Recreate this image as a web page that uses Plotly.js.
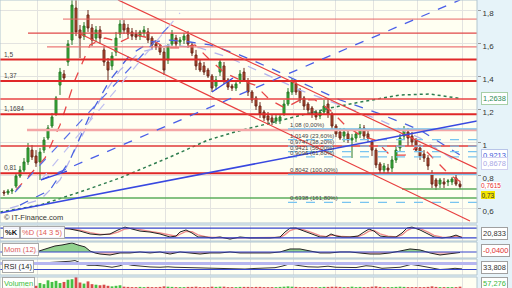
<!DOCTYPE html>
<html><head><meta charset="utf-8">
<script src="https://cdn.plot.ly/plotly-3.0.1.min.js"></script>
<style>html,body{margin:0;padding:0;background:#e6f3f9;}#chart{width:512px;height:288px;}</style>
</head><body><div id="chart"></div>
<script>
// ---------- DATA ----------
const openP = [0.697,0.691,0.703,0.733,0.794,0.830,0.879,0.951,0.915,0.879,
0.951,1.024,1.097,1.170,1.345,1.412,1.485,1.618,1.812,1.679,
1.642,1.770,1.691,1.630,1.679,1.558,1.485,1.461,1.545,1.655,
1.715,1.691,1.667,1.655,1.642,1.661,1.667,1.630,1.594,1.582,
1.545,1.497,1.594,1.630,1.606,1.618,1.649,1.588,1.527,1.479,
1.461,1.436,1.400,1.339,1.424,1.461,1.376,1.339,1.327,1.364,
1.424,1.364,1.303,1.267,1.218,1.182,1.158,1.146,1.127,1.133,
1.170,1.230,1.303,1.352,1.315,1.267,1.230,1.206,1.182,1.158,
1.182,1.230,1.170,1.097,1.061,1.036,1.049,1.012,1.024,1.049,
1.085,1.049,1.000,0.951,0.867,0.830,0.842,0.842,0.891,0.964,
1.036,1.061,1.036,1.012,0.964,0.927,0.903,0.806,0.770,0.745,
0.758,0.758,0.758,0.782,0.745];
const closeP = [0.691,0.703,0.709,0.794,0.830,0.879,0.964,0.909,0.873,0.939,
1.012,1.085,1.152,1.267,1.424,1.388,1.594,1.830,1.667,1.630,
1.703,1.691,1.618,1.679,1.630,1.485,1.436,1.521,1.630,1.715,
1.679,1.655,1.642,1.636,1.667,1.679,1.618,1.588,1.576,1.545,
1.436,1.582,1.655,1.594,1.618,1.642,1.594,1.539,1.461,1.436,
1.424,1.400,1.327,1.376,1.485,1.376,1.333,1.327,1.352,1.412,
1.376,1.303,1.255,1.218,1.170,1.146,1.133,1.121,1.146,1.152,
1.230,1.303,1.364,1.303,1.255,1.218,1.194,1.170,1.152,1.182,
1.218,1.170,1.097,1.049,1.024,1.061,1.012,1.024,1.049,1.085,
1.036,1.024,0.951,0.861,0.830,0.855,0.830,0.891,0.951,1.024,
1.073,1.024,1.000,0.951,0.915,0.903,0.855,0.745,0.733,0.770,
0.745,0.764,0.776,0.745,0.730];
const highP = [0.709,0.715,0.721,0.806,0.855,0.903,0.994,0.982,0.951,0.964,
1.030,1.103,1.176,1.279,1.449,1.436,1.618,1.861,1.861,1.709,
1.727,1.800,1.715,1.703,1.703,1.582,1.509,1.545,1.667,1.739,
1.739,1.715,1.691,1.679,1.679,1.703,1.691,1.642,1.618,1.594,
1.570,1.594,1.679,1.649,1.636,1.661,1.673,1.606,1.558,1.497,
1.485,1.449,1.412,1.400,1.497,1.485,1.388,1.352,1.376,1.436,
1.449,1.388,1.315,1.279,1.242,1.194,1.182,1.164,1.164,1.170,
1.255,1.327,1.388,1.376,1.327,1.279,1.242,1.218,1.194,1.194,
1.255,1.267,1.182,1.109,1.085,1.085,1.073,1.049,1.061,1.109,
1.103,1.073,1.012,0.964,0.879,0.873,0.867,0.915,0.976,1.049,
1.097,1.085,1.061,1.024,0.982,0.951,0.921,0.830,0.782,0.782,
0.782,0.776,0.788,0.806,0.764];
const lowP = [0.673,0.679,0.685,0.721,0.782,0.818,0.861,0.891,0.849,0.770,
0.933,1.012,1.085,1.158,1.285,1.364,1.461,1.588,1.642,1.509,
1.618,1.667,1.582,1.606,1.594,1.461,1.376,1.436,1.521,1.630,
1.655,1.630,1.618,1.618,1.618,1.636,1.600,1.564,1.558,1.527,
1.406,1.473,1.582,1.576,1.582,1.594,1.570,1.521,1.436,1.424,
1.406,1.388,1.303,1.315,1.400,1.352,1.315,1.309,1.309,1.352,
1.364,1.279,1.236,1.194,1.146,1.127,1.115,1.103,1.109,1.109,
1.158,1.218,1.285,1.285,1.236,1.194,1.170,1.146,1.133,1.139,
1.164,1.146,1.073,1.030,1.012,1.000,0.994,0.903,1.000,1.024,
1.012,1.000,0.915,0.842,0.812,0.812,0.806,0.818,0.873,0.945,
1.012,0.976,0.976,0.939,0.891,0.879,0.830,0.721,0.709,0.721,
0.721,0.733,0.739,0.733,0.715];
const volume = [5,5,8,25,20,18,30,15,20,45, 35,70,55,65,45,55,75,80,100,50,
40,60,35,30,25,30,20,15,20,25, 12,10,8,8,10,8,10,8,8,10,
15,12,10,8,8,8,10,10,12,8, 8,8,12,10,12,12,8,8,8,10,
10,10,8,10,10,8,8,8,8,10, 12,15,12,10,8,8,8,8,8,8,
10,10,12,12,10,8,8,12,8,10, 8,8,12,15,10,8,8,8,10,12,
10,8,8,8,8,8,10,15,10,8, 8,8,8,8,12];

// moving averages (bar index, price)
const maFastX = [3,6.5,10.25,14,17.75,21.5,25.25,29,32.75,36.5,40.25,44,47.75,51.5,55.25,59,62.75,66.5,70.25,74,77.75,81.5,85.25,89,92.75,96.5,100.25,104,107.75,111.5,114];
const maFastY = [0.709,0.800,0.903,1.103,1.376,1.588,1.630,1.606,1.649,1.630,1.570,1.570,1.588,1.497,1.418,1.376,1.345,1.255,1.206,1.255,1.255,1.194,1.103,1.042,1.012,0.921,0.921,0.982,0.891,0.800,0.7615];
const maMidX = [1.5,9,14,19,24,29,34,41.5,49,56.5,64,74,84,94,104,114];
const maMidY = [0.600,0.649,0.770,1.012,1.255,1.436,1.545,1.588,1.570,1.509,1.424,1.315,1.224,1.133,1.024,0.8678];
const maSlowX = [4,11.5,16.5,21.5,26.5,31.5,36.5,41.5,46.5,51.5,59,66.5,74,84,94,104,114];
const maSlowY = [0.618,0.709,0.891,1.164,1.376,1.527,1.606,1.618,1.606,1.588,1.527,1.449,1.364,1.255,1.170,1.073,0.9213];
const ma200X = [-1,9,19,29,41.5,51,57.75,71.5,81.5,89,99,106.5,114];
const ma200Y = [0.576,0.618,0.697,0.782,0.909,1.012,1.061,1.146,1.206,1.242,1.285,1.291,1.2638];

// stochastic
const stochX = [14,16.5,19,21.5,24,26.5,28.5,30.25,32,34,36.5,39,41.5,43,44,45.5,47,48.5,50.25,52,54,56.5,59,61.5,64,66.5,69,70.25,71.5,73,75,77,79,80.5,81.75,83,84.5,86.5,88.5,90,91.25,92.5,94,96,98,99.5,100.75,102,104,106,107.5,109.5,111.5,113,114.5];
const stochK = [81,75,62,44,38,44,69,87,75,62,56,44,25,31,56,69,50,25,25,19,25,12,25,19,19,19,25,56,80,81,62,44,25,25,44,31,25,25,31,56,75,62,31,25,25,50,81,87,69,44,25,19,25,37,20.833];
const stochD = [78,77,68,52,42,42,55,75,80,70,60,50,35,30,42,60,58,38,28,22,22,18,20,20,19,19,22,40,65,78,70,52,34,27,35,35,28,26,28,42,62,66,45,30,26,38,65,80,78,55,35,24,22,30,26];
// momentum
const momX = [8,10.25,12.75,14.5,16,17,18.5,20.25,21.5,22.75,24,26.5,29,31.5,34,36.5,39,41.5,44,46.5,49,51.5,54,56.5,59,61.5,64,66.5,69,71.5,74,76.5,79,81.5,84,86.5,89,91.5,94,96.5,99,101.5,104,106.5,109,111.5,114];
const momV = [0,0.25,0.5,0.58,0.66,0.75,0.58,0.42,0.08,-0.08,-0.17,-0.25,-0.08,-0.08,0,-0.08,0,-0.17,0,-0.08,-0.17,-0.08,-0.08,0,-0.08,-0.08,-0.08,-0.08,0,0.25,0.25,0.08,-0.08,-0.08,0,0,-0.08,-0.17,-0.17,-0.08,0.08,0.25,0.17,-0.08,-0.25,-0.17,-0.04];
// RSI
const rsiX = [7.25,11.5,14,16.5,17.75,19,21,22.75,25.25,27,29,30.25,32,34,36.5,39,41,42.75,45.25,47.75,50.25,52.75,55.25,57.75,60.25,62.75,65.25,67.75,69.5,71.5,73.5,76,78.5,81,83,85.5,88,90.5,92,94.5,97,99,100.5,101.75,104,106.5,109,111,112.75,114.5];
const rsiV = [70,75,80,85,90,75,58,58,52,45,55,68,58,52,47,45,48,45,43,40,38,36,33,32,33,37,38,42,52,68,57,48,46,52,45,42,43,55,52,38,40,45,55,64,55,42,30,33,38,33.808];

// horizontal levels
const levelPrices = [1.745,1.66,1.576,1.5,1.37,1.26,1.1684,1.073,0.976,0.81];
const levelFrom = [14.75,6,10.75,-1,-1,-1,-1,5.75,-1,-1];
const greenLevels = [0.661,0.715];
const greenFrom = [-1,99.5];
const fibPrices = [1.08,1.0149,0.9747,0.9421,0.9096,0.8042,0.6338];
const fibPct = ['0,00%','23,60%','38,20%','50,00%','61,80%','100,00%','161,80%'];
const labeledLevels = [1.5,1.37,1.1684,0.81];
const yTicks = [0.6,0.8,1,1.2,1.4,1.6,1.8];
const yTickText = ['0,6','0,8','1','1,2','1,4','1,6','1,8'];
const gridX = [8.25,18.5,29.5,40.25,51.5,61.5,72.25,82.75,92.25,103.25,114.5];

// ---------- BUILD ----------
const idx = openP.map((_, i) => i);
const comma = v => String(v).replace('.', ',');
const XMIN = -1, XMAX = 118.25;
const FONT = 'Liberation Sans, Arial, sans-serif';

const traces = [];
traces.push({type:'candlestick', x:idx, open:openP, high:highP, low:lowP, close:closeP,
  xaxis:'x', yaxis:'y', whiskerwidth:0, hoverinfo:'skip', showlegend:false,
  increasing:{line:{color:'#2b7a2b', width:1}, fillcolor:'#33b833'},
  decreasing:{line:{color:'#6a2a1c', width:1}, fillcolor:'#c24a2e'}});
const maLine = (x, y, color, dash, w) => ({type:'scatter', mode:'lines', x, y, xaxis:'x', yaxis:'y',
  line:{color, dash, width:w}, hoverinfo:'skip', showlegend:false});
traces.push(maLine(ma200X, ma200Y, '#2e7d4f', 'dot', 1.5));
traces.push(maLine(maMidX, maMidY, '#b4b4ec', 'dash', 1.3));
traces.push(maLine(maSlowX, maSlowY, '#4a62e0', 'dash', 1.3));
traces.push(maLine(maFastX, maFastY, '#e84848', 'dash', 1.3));

traces.push({type:'scatter', mode:'lines', x:stochX, y:stochD, xaxis:'x', yaxis:'y2', line:{color:'#ee8a8a', width:1.3}, hoverinfo:'skip', showlegend:false});
traces.push({type:'scatter', mode:'lines', x:stochX, y:stochK, xaxis:'x', yaxis:'y2', line:{color:'#222', width:1}, hoverinfo:'skip', showlegend:false});

traces.push({type:'scatter', mode:'lines', x:momX, y:momV.map(v => Math.max(v, 0)), xaxis:'x', yaxis:'y3', fill:'tozeroy', fillcolor:'rgba(110,195,110,0.75)', line:{width:0}, hoverinfo:'skip', showlegend:false});
traces.push({type:'scatter', mode:'lines', x:momX, y:momV.map(v => Math.min(v, 0)), xaxis:'x', yaxis:'y3', fill:'tozeroy', fillcolor:'rgba(240,150,150,0.6)', line:{width:0}, hoverinfo:'skip', showlegend:false});
traces.push({type:'scatter', mode:'lines', x:momX, y:momV, xaxis:'x', yaxis:'y3', line:{color:'#222', width:1}, hoverinfo:'skip', showlegend:false});

traces.push({type:'scatter', mode:'lines', x:rsiX, y:rsiV, xaxis:'x', yaxis:'y4', line:{color:'#333', width:1}, hoverinfo:'skip', showlegend:false});

traces.push({type:'bar', x:idx, y:volume, xaxis:'x', yaxis:'y5', width:0.7,
  marker:{color: idx.map(i => closeP[i] >= openP[i] ? '#44c044' : '#d84a4a')}, hoverinfo:'skip', showlegend:false});

const shapes = [];
const seg = (x0, y0, x1, y1, color, width, dash, yref) => ({type:'line', xref:'x', yref:yref || 'y', x0, y0, x1, y1, line:{color, width, dash: dash || 'solid'}});
const levelStyle = [['#e86464',1],['#e04848',1.2],['#ec7878',1.2],['#e02828',2],['#e02828',2],['#e84444',1.5],['#e02828',2],['#f4a6a6',2.5],['#e03838',1.5],['#e02828',2]];
levelPrices.forEach((p, i) => shapes.push(seg(levelFrom[i], p, XMAX, p, levelStyle[i][0], levelStyle[i][1])));
greenLevels.forEach((p, i) => shapes.push(seg(greenFrom[i], p, XMAX, p, '#5cae5c', 1.5)));
fibPrices.forEach((p, i) => shapes.push(seg(71, p, XMAX, p, '#78c4f0', 1.2, (i === 0 || i === 5) ? 'solid' : 'dash')));
// trend lines
shapes.push(seg(28.5, 1.861, XMAX, 0.838, '#e84040', 1.2));
shapes.push(seg(19, 1.656, 116.5, 0.521, '#e84040', 1.2));
shapes.push(seg(-1, 0.570, XMAX, 1.127, '#3848e0', 1.5));
shapes.push(seg(9.25, 0.770, 114, 1.861, '#4a5ee8', 1.3, 'dash'));
shapes.push(seg(9.25, 0.770, 44, 1.782, '#c0c0f0', 1.2, 'dash'));
shapes.push(seg(2.75, 0.697, 41.5, 1.709, '#5a70e8', 1.2, 'dash'));
shapes.push(seg(9.25, 0.770, 15.75, 0.824, '#3848e0', 1.3));
shapes.push(seg(52, 1.303, 57.25, 1.388, '#3848e0', 1.3));
// indicator reference lines
shapes.push(seg(XMIN, 80, XMAX, 80, '#3644cc', 1.2, 'solid', 'y2'));
shapes.push(seg(XMIN, 20, XMAX, 20, '#3644cc', 1.2, 'solid', 'y2'));
shapes.push(seg(XMIN, 0, XMAX, 0, '#3644cc', 1.2, 'solid', 'y3'));
shapes.push(seg(XMIN, 70, XMAX, 70, '#b6b6f0', 3, 'solid', 'y4'));
shapes.push(seg(XMIN, 30, XMAX, 30, '#3644cc', 1.2, 'solid', 'y4'));
// panel borders
const H = 288;
const panels = [[0,223],[225,241],[242,258],[259,275],[277,290]];
panels.forEach(pp => shapes.push({type:'rect', xref:'paper', yref:'paper', x0:0, x1:1, y0:1-pp[1]/H, y1:1-pp[0]/H, line:{color:'#b2c6d0', width:1}, fillcolor:'rgba(0,0,0,0)'}));

const ann = [];
// fib labels
fibPrices.forEach((p, i) => ann.push({xref:'x', yref:'y', x:71, y:p, xanchor:'left', yanchor:'bottom', showarrow:false,
  text: comma(p) + ' (' + fibPct[i] + ')', font:{family:FONT, size:6, color:'#444'}, yshift:-1}));
labeledLevels.forEach(p => ann.push({xref:'x', yref:'y', x:-0.4, y:p, xanchor:'left', yanchor:'bottom', showarrow:false,
  text: comma(p), font:{family:FONT, size:6.5, color:'#444'}}));
ann.push({xref:'paper', yref:'paper', x:0.004, y:1-217/H, xanchor:'left', yanchor:'middle', showarrow:false,
  text:'© IT-Finance.com', font:{family:FONT, size:7.5, color:'#333'}});
// right value boxes
const XR = 481/477;
const box = (y, yref, text, color, bg, border, shift, size, bw, pad) => ({xref:'paper', yref, x:XR, y, xanchor:'left', yanchor:'middle', showarrow:false,
  text, font:{family:FONT, size:size || 7.5, color}, bgcolor:bg, bordercolor:border,
  borderwidth: bw === undefined ? 1 : bw, borderpad: pad === undefined ? 1 : pad, yshift:shift || 0});
ann.push(box(ma200Y[ma200Y.length-1], 'y', comma(ma200Y[ma200Y.length-1]), '#2e8b57', '#ffffff', '#a8cfa8'));
ann.push(box(maSlowY[maSlowY.length-1], 'y', comma(maSlowY[maSlowY.length-1]), '#3a56d8', '#ffffff', '#b8c4e8'));
ann.push(box(maMidY[maMidY.length-1], 'y', comma(maMidY[maMidY.length-1]), '#a8a8e4', '#ffffff', '#d0d0f0'));
ann.push(box(maFastY[maFastY.length-1], 'y', comma(maFastY[maFastY.length-1]), '#e83030', '#ffffff', '#f0c0c0', -4, 6.5, 0, 0));
ann.push(box(closeP[closeP.length-1], 'y', comma(closeP[closeP.length-1]), '#333', '#f2e400', '#c8b800', -8.5, 6.5, 0, 0.5));
ann.push(box(1-233/H, 'paper', comma(stochK[stochK.length-1]), '#333', '#ffffff', '#a0a0a0'));
ann.push(box(1-250/H, 'paper', '-0,0400', '#e03030', '#ffffff', '#a0a0a0'));
ann.push(box(1-267/H, 'paper', comma(rsiV[rsiV.length-1]), '#333', '#ffffff', '#a0a0a0'));
ann.push(box(1-283/H, 'paper', '57,276', '#3cb83c', '#ffffff', '#a0a0a0'));
// panel labels
const plab = (x, ypx, text, color, bold) => ({xref:'paper', yref:'paper', x, y:1-ypx/H, xanchor:'left', yanchor:'middle', showarrow:false,
  text: bold ? '<b>'+text+'</b>' : text, font:{family:FONT, size:7.5, color}, bgcolor:'rgba(255,255,255,0.9)', bordercolor:'#a8a8a8', borderwidth:1, borderpad:1});
ann.push(plab(3/477, 232, '%K', '#111', true));
ann.push(plab(20/477, 232, '%D (14 3 5)', '#e05a5a'));
ann.push(plab(2/477, 249, 'Mom (12)', '#e05a5a'));
ann.push(plab(2/477, 266, 'RSI (14)', '#222'));
ann.push(plab(2/477, 283, 'Volumen', '#40c040'));

const dom = (a, b) => [1 - b/H, 1 - a/H];
const subY = (a, b, range) => ({domain:dom(a, b), range, anchor:'x', showticklabels:false, showgrid:false, zeroline:false, fixedrange:true});

const layout = {
  width:512, height:288, margin:{l:0, r:35, t:0, b:0, pad:0},
  paper_bgcolor:'#e6f3f9', plot_bgcolor:'#fffff2', showlegend:false,
  font:{family:FONT, size:8, color:'#333'},
  xaxis:{domain:[0,1], range:[XMIN, XMAX], tickvals:gridX, showticklabels:false, ticks:'', showgrid:true,
    gridcolor:'#e3e3e0', gridwidth:1, zeroline:false, fixedrange:true, rangeslider:{visible:false}, anchor:'y'},
  yaxis:{domain:dom(0, 223), range:[0.5092, 1.8606], side:'right', tickvals:yTicks, ticktext:yTickText,
    showgrid:true, gridcolor:'#e3e3e0', zeroline:false, ticks:'outside', ticklen:3, tickcolor:'#999',
    ticklabelshift:3, tickfont:{family:FONT, size:8, color:'#333'}, anchor:'x', fixedrange:true},
  yaxis2: subY(225, 241, [0, 100]),
  yaxis3: subY(242, 258, [-0.5, 0.83]),
  yaxis4: subY(259, 275, [-6.7, 100]),
  yaxis5: subY(277, 288, [0, 100]),
  shapes, annotations: ann, bargap:0.3
};
Plotly.newPlot('chart', traces, layout, {staticPlot:true, displayModeBar:false});
</script></body></html>
